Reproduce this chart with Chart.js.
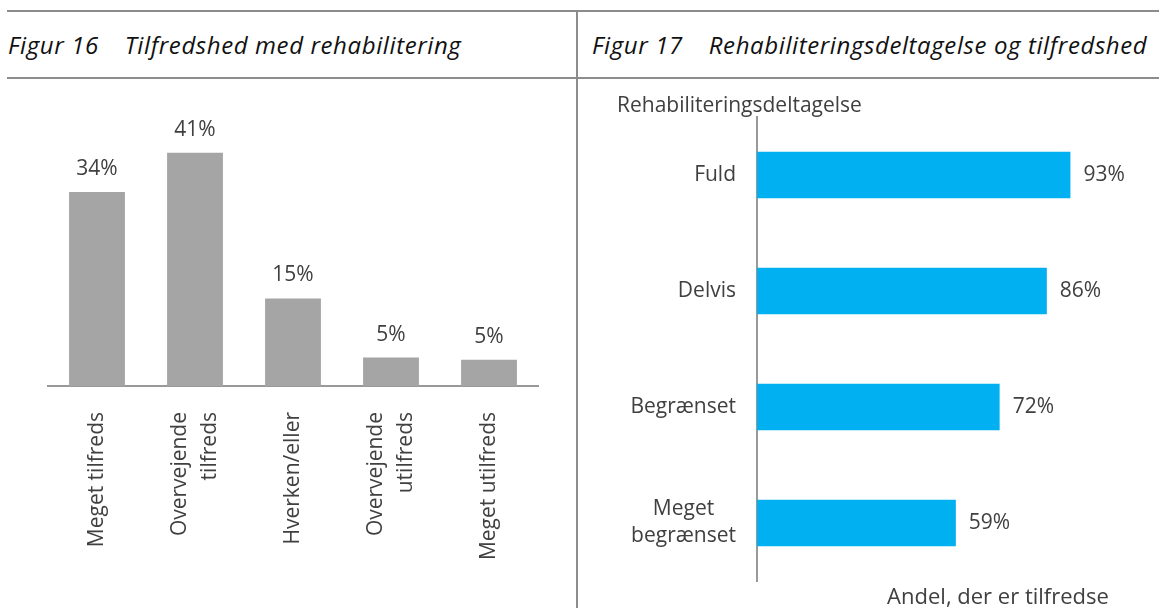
<!DOCTYPE html>
<html lang="da">
<head>
<meta charset="utf-8">
<title>Figur 16 og 17</title>
<script src="https://cdn.jsdelivr.net/npm/chart.js@4.4.1/dist/chart.umd.min.js"></script>
<style>
  html, body { margin: 0; padding: 0; background: #fff; }
  #page { position: relative; width: 1159px; height: 608px; overflow: hidden; }
  .hline { position: absolute; left: 7px; right: 0; height: 2px; background: #8c8c8c; }
  .vline { position: absolute; left: 576px; top: 11px; bottom: 0; width: 2px; background: #8c8c8c; }
  .title { position: absolute; top: 28px; font: italic 24px "Open Sans", sans-serif; letter-spacing: 0.6px; color: #111; white-space: nowrap; }
  .title span { margin-left: 26px; }
  .box { position: absolute; top: 80px; height: 528px; }
</style>
</head>
<body>
<div id="page">
  <div class="hline" style="top:10px"></div>
  <div class="hline" style="top:77px"></div>
  <div class="vline"></div>
  <div class="title" style="left:8px">Figur 16<span>Tilfredshed med rehabilitering</span></div>
  <div class="title" style="left:592px">Figur 17<span>Rehabiliteringsdeltagelse og tilfredshed</span></div>
  <div class="box" style="left:0;width:576px"><canvas id="satisfaction"></canvas></div>
  <div class="box" style="left:578px;width:581px"><canvas id="participation"></canvas></div>
</div>
<script>
// Figur 16
const satisfactionLabels = [
  ["Meget tilfreds"],
  ["Overvejende", "tilfreds"],
  ["Hverken/eller"],
  ["Overvejende", "utilfreds"],
  ["Meget utilfreds"]
];
const satisfactionValues = [34.1, 41, 15.4, 5.0, 4.6];

// Figur 17
const participationLabels = [["Fuld"], ["Delvis"], ["Begrænset"], ["Meget", "begrænset"]];
const participationValues = [93, 86, 72, 59];
const participationTitle = "Rehabiliteringsdeltagelse";
const shareTitle = "Andel, der er tilfredse";

const textColor = "#404040";
const font = '21px "Open Sans", sans-serif';

const columnLabels = {
  id: "columnLabels",
  afterDatasetsDraw(chart) {
    const ctx = chart.ctx;
    const xScale = chart.scales.x;
    ctx.save();
    ctx.fillStyle = textColor;
    ctx.font = font;
    ctx.textAlign = "center";
    ctx.textBaseline = "middle";
    chart.getDatasetMeta(0).data.forEach((bar, i) => {
      ctx.fillText(Math.round(satisfactionValues[i]) + "%", bar.x, bar.y - 23);
    });
    ctx.textAlign = "right";
    satisfactionLabels.forEach((lines, i) => {
      const x = xScale.getPixelForValue(i);
      lines.forEach((line, j) => {
        ctx.save();
        ctx.translate(x + (j - (lines.length - 1) / 2) * 30, xScale.top + 26);
        ctx.rotate(-Math.PI / 2);
        ctx.fillText(line, 0, 0);
        ctx.restore();
      });
    });
    ctx.restore();
  }
};

const rowLabels = {
  id: "rowLabels",
  afterDatasetsDraw(chart) {
    const ctx = chart.ctx;
    const yScale = chart.scales.y;
    const area = chart.chartArea;
    ctx.save();
    ctx.fillStyle = textColor;
    ctx.font = font;
    ctx.textBaseline = "middle";
    ctx.textAlign = "left";
    chart.getDatasetMeta(0).data.forEach((bar, i) => {
      ctx.fillText(participationValues[i] + "%", bar.x + 13, bar.y);
    });
    // category labels, right aligned block, lines centred in it
    ctx.textAlign = "center";
    const right = yScale.right - 21;
    participationLabels.forEach((lines, i) => {
      const y = yScale.getPixelForValue(i);
      const w = Math.max(...lines.map(l => ctx.measureText(l).width));
      lines.forEach((line, j) => {
        ctx.fillText(line, right - w / 2, y + (j - (lines.length - 1) / 2) * 27);
      });
    });
    ctx.textAlign = "left";
    ctx.fillText(participationTitle, 39, area.top - 11);
    ctx.font = '22px "Open Sans", sans-serif';
    ctx.textAlign = "center";
    ctx.fillText(shareTitle, 420, area.bottom + 17);
    ctx.restore();
  }
};

new Chart(document.getElementById("satisfaction"), {
  type: "bar",
  data: {
    labels: satisfactionLabels,
    datasets: [{
      data: satisfactionValues,
      backgroundColor: "#a5a5a5",
      barPercentage: 0.57,
      categoryPercentage: 1
    }]
  },
  options: {
    responsive: true,
    maintainAspectRatio: false,
    animation: false,
    layout: { padding: { left: 48, right: 38, top: 50, bottom: 0 } },
    plugins: { legend: { display: false }, tooltip: { enabled: false } },
    scales: {
      x: {
        grid: { display: false, drawTicks: false },
        border: { color: "#999", width: 2 },
        ticks: { display: false },
        afterFit(scale) { scale.height = 222; }
      },
      y: { display: false, min: 0, max: 45 }
    }
  },
  plugins: [columnLabels]
});

new Chart(document.getElementById("participation"), {
  type: "bar",
  data: {
    labels: participationLabels,
    datasets: [{
      data: participationValues,
      backgroundColor: "#00b0f0",
      barPercentage: 0.4,
      categoryPercentage: 1
    }]
  },
  options: {
    indexAxis: "y",
    responsive: true,
    maintainAspectRatio: false,
    animation: false,
    layout: { padding: { left: 0, right: 65, top: 37, bottom: 27 } },
    plugins: { legend: { display: false }, tooltip: { enabled: false } },
    scales: {
      x: { display: false, min: 0, max: 100 },
      y: {
        grid: { display: false, drawTicks: false },
        border: { color: "#999", width: 2 },
        ticks: { display: false },
        afterFit(scale) { scale.width = 179; }
      }
    }
  },
  plugins: [rowLabels]
});
</script>
</body>
</html>
